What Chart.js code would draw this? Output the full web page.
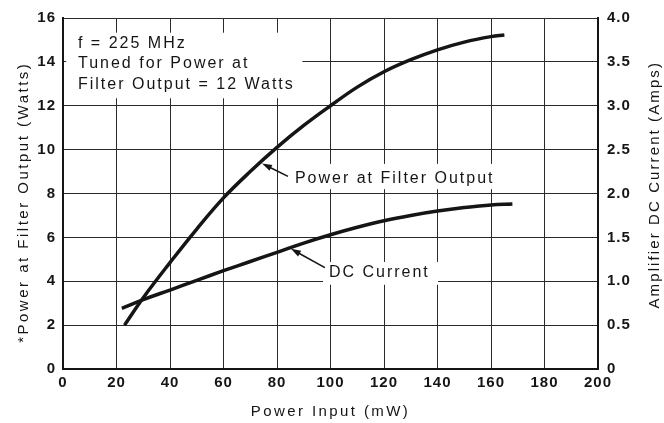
<!DOCTYPE html>
<html><head><meta charset="utf-8">
<script src="https://cdn.jsdelivr.net/npm/chart.js@4/dist/chart.umd.min.js"></script>
<style>html,body{margin:0;padding:0;background:#fff;}#wrap{width:664px;height:423px;position:relative;}</style>
</head><body><div id="wrap"><canvas id="c" width="664" height="423"></canvas></div>
<script>
// ---- data ----
const powerInput  = [23, 30, 40, 50, 60, 70, 80, 90, 100, 110, 120, 130, 140, 150, 160, 165];
const filterPower = [2.0, 3.25, 4.85, 6.38, 7.8, 9.0, 10.1, 11.1, 12.0, 12.85, 13.55, 14.1, 14.55, 14.9, 15.15, 15.22];
const dcInput     = [22, 30, 40, 50, 60, 70, 80, 90, 100, 110, 120, 130, 140, 150, 160, 168];
const dcCurrent   = [0.69, 0.79, 0.9, 1.01, 1.12, 1.225, 1.33, 1.435, 1.53, 1.615, 1.69, 1.75, 1.8, 1.84, 1.87, 1.88];
const xTicks      = [0, 20, 40, 60, 80, 100, 120, 140, 160, 180, 200];
const wattTicks   = [0, 2, 4, 6, 8, 10, 12, 14, 16];
const ampTicks    = [0, 0.5, 1, 1.5, 2, 2.5, 3, 3.5, 4];
const ampTickLabels = ['0', '0.5', '1.0', '1.5', '2.0', '2.5', '3.0', '3.5', '4.0'];
const seriesNames = ['Power at Filter Output', 'DC Current'];
const noteLines   = ['f = 225 MHz', 'Tuned for Power at', 'Filter Output = 12 Watts'];
const xTitle = 'Power Input (mW)';
const yTitle = '*Power at Filter Output (Watts)';
const y1Title = 'Amplifier DC Current (Amps)';

const INK = '#151515';
const FONT = "'Liberation Sans', Arial, sans-serif";

function setSpacing(ctx, s) { if ('letterSpacing' in ctx) ctx.letterSpacing = s; }

// annotation placement in data units (x in mW, y on the named axis)
const noteBox   = {x0: 1.2, x1: 89.5, y0: 15.33, y1: 12.34, axis: 'y'};
const noteText  = {x: 5.6, ys: [14.83, 13.92, 12.95], axis: 'y'};
const labelAnn = [
  {text: seriesNames[0], axis: 'y',  x: 86.7, y: 8.69, box: [84.5, 163.5, 9.35, 8.2],
   arrow: {from: [84.1, 8.78], to: [74.4, 9.37]}},
  {text: seriesNames[1], axis: 'y1', x: 99.4, y: 1.093, box: [97.2, 140.2, 1.22, 0.96],
   arrow: {from: [97.9, 1.155], to: [85.2, 1.37]}}
];
// vertical axis titles: centre given in data units along the axis
const sideTitles = [
  {text: yTitle,  axis: 'y',  at: 7.6, side: 'left',  offset: 24, spacing: '2.5px'},
  {text: y1Title, axis: 'y1', at: 2.1, side: 'right', offset: 9,  spacing: '2.1px'}
];

function drawArrow(ctx, x0, y0, x1, y1) {
  const ang = Math.atan2(y1 - y0, x1 - x0);
  const L = 10, W = 3.2;
  ctx.beginPath(); ctx.moveTo(x0, y0); ctx.lineTo(x1 - Math.cos(ang) * 4, y1 - Math.sin(ang) * 4);
  ctx.lineWidth = 1.6; ctx.strokeStyle = INK; ctx.stroke();
  ctx.beginPath();
  ctx.moveTo(x1, y1);
  ctx.lineTo(x1 - L * Math.cos(ang) + W * Math.sin(ang), y1 - L * Math.sin(ang) - W * Math.cos(ang));
  ctx.lineTo(x1 - L * Math.cos(ang) - W * Math.sin(ang), y1 - L * Math.sin(ang) + W * Math.cos(ang));
  ctx.closePath(); ctx.fillStyle = INK; ctx.fill();
}

const decor = {
  id: 'decor',
  beforeUpdate(chart) { setSpacing(chart.ctx, '1px'); },
  beforeDraw(chart) { setSpacing(chart.ctx, '2.4px'); },
  beforeDatasetsDraw(chart) {
    const {ctx, scales} = chart; const x = scales.x;
    ctx.save(); ctx.fillStyle = '#fff';
    const ys = scales[noteBox.axis];
    ctx.fillRect(x.getPixelForValue(noteBox.x0), ys.getPixelForValue(noteBox.y0),
      x.getPixelForValue(noteBox.x1) - x.getPixelForValue(noteBox.x0),
      ys.getPixelForValue(noteBox.y1) - ys.getPixelForValue(noteBox.y0));
    labelAnn.forEach(a => {
      const s = scales[a.axis];
      const px0 = x.getPixelForValue(a.box[0]), px1 = x.getPixelForValue(a.box[1]);
      const py0 = s.getPixelForValue(a.box[2]), py1 = s.getPixelForValue(a.box[3]);
      ctx.fillRect(px0, py0, px1 - px0, py1 - py0);
    });
    ctx.restore();
    setSpacing(ctx, '1px');
  },
  afterDraw(chart) {
    const {ctx, scales} = chart; const x = scales.x;
    ctx.save();
    setSpacing(ctx, '2px');
    ctx.font = '16px ' + FONT; ctx.fillStyle = INK; ctx.textBaseline = 'middle'; ctx.textAlign = 'left';
    const ns = scales[noteText.axis];
    noteLines.forEach((t, i) => ctx.fillText(t, x.getPixelForValue(noteText.x), ns.getPixelForValue(noteText.ys[i])));
    labelAnn.forEach(a => {
      const s = scales[a.axis];
      ctx.fillText(a.text, x.getPixelForValue(a.x), s.getPixelForValue(a.y));
      drawArrow(ctx, x.getPixelForValue(a.arrow.from[0]), s.getPixelForValue(a.arrow.from[1]),
                     x.getPixelForValue(a.arrow.to[0]), s.getPixelForValue(a.arrow.to[1]));
    });
    // vertical axis titles, both reading bottom-to-top as in the reference
    ctx.font = '15px ' + FONT; ctx.textAlign = 'center';
    sideTitles.forEach(t => {
      const s = scales[t.axis];
      const cx = t.side === 'left' ? s.left + t.offset : s.right - t.offset;
      ctx.save();
      setSpacing(ctx, t.spacing);
      ctx.translate(cx, s.getPixelForValue(t.at));
      ctx.rotate(-Math.PI / 2);
      ctx.fillText(t.text, 0, 0);
      ctx.restore();
    });
    ctx.restore();
    setSpacing(ctx, '1px');
  }
};

const tickFont = {family: FONT, size: 15, weight: 'bold'};
const titleFont = {family: FONT, size: 15};

new Chart(document.getElementById('c'), {
  type: 'line',
  data: {
    datasets: [
      {label: seriesNames[0], yAxisID: 'y', data: powerInput.map((v, i) => ({x: v, y: filterPower[i]})),
       borderColor: INK, borderWidth: 3.5, pointRadius: 0, tension: 0.4, fill: false},
      {label: seriesNames[1], yAxisID: 'y1', data: dcInput.map((v, i) => ({x: v, y: dcCurrent[i]})),
       borderColor: INK, borderWidth: 3.5, pointRadius: 0, tension: 0.4, fill: false}
    ]
  },
  options: {
    responsive: false, animation: false, devicePixelRatio: 1,
    layout: {padding: {top: 15, left: 0, right: 0, bottom: 0}},
    plugins: {legend: {display: false}, tooltip: {enabled: false}},
    scales: {
      x: {
        type: 'linear', min: 0, max: 200,
        afterBuildTicks: s => { s.ticks = xTicks.map(v => ({value: v})); },
        afterFit: s => { s.height = 54; },
        grid: {color: '#2a2a2a', lineWidth: 1, drawTicks: false},
        border: {display: true, color: INK, width: 2},
        ticks: {font: tickFont, color: INK, padding: 5, maxRotation: 0, autoSkip: false, z: 1},
        title: {display: true, text: xTitle, font: titleFont, color: INK, padding: {top: 0, bottom: 2}}
      },
      y: {
        type: 'linear', position: 'left', min: 0, max: 16,
        afterBuildTicks: s => { s.ticks = wattTicks.map(v => ({value: v})); },
        afterFit: s => { s.width = 63; },
        grid: {color: '#2a2a2a', lineWidth: 1, drawTicks: false},
        border: {display: true, color: INK, width: 2},
        ticks: {font: tickFont, color: INK, padding: 7, z: 1},
        title: {display: false, text: yTitle}
      },
      y1: {
        type: 'linear', position: 'right', min: 0, max: 4,
        afterBuildTicks: s => { s.ticks = ampTicks.map(v => ({value: v})); },
        afterFit: s => { s.width = 66; },
        grid: {display: false, drawTicks: false},
        border: {display: true, color: INK, width: 2},
        ticks: {font: tickFont, color: INK, padding: 9, z: 1,
                callback: v => ampTickLabels[ampTicks.indexOf(v)]},
        title: {display: false, text: y1Title}
      }
    }
  },
  plugins: [decor]
});
</script>
</body></html>
